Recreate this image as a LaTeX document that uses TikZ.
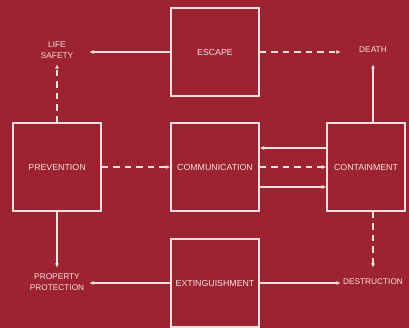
\documentclass[tikz,border=0pt]{standalone}
\usepackage{fontspec}
\setmainfont{Liberation Sans}
\usetikzlibrary{positioning,arrows.meta}
\definecolor{firered}{HTML}{9E2330}
\definecolor{chalk}{HTML}{F6E0E0}

\begin{document}
\begin{tikzpicture}[x=1pt,y=-1pt,
    box/.style={draw=chalk,line width=1.3pt,minimum width=88pt,minimum height=88pt,inner sep=0pt,text=chalk,font=\fontsize{8.8}{11}\selectfont},
    tag/.style={text=chalk,align=center,minimum width=64pt,minimum height=28pt,inner sep=0pt,font=\fontsize{8.3}{11}\selectfont},
    flow/.style={draw=chalk,line width=1.3pt,-{Latex[length=4.5pt,width=4pt]}},
    maybe/.style={flow,dash pattern=on 6.5pt off 5pt}]
        \fill[firered] (0,0) rectangle (409,328);
        % boxes
        \node[box] (escape) at (215,52) {ESCAPE};
        \node[box] (prevention) at (57,167) {PREVENTION};
        \node[box] (communication) at (215,167) {COMMUNICATION};
        \node[box,minimum width=78pt] (containment) at (366,167) {CONTAINMENT};
        \node[box] (extinguishment) at (215,283) {EXTINGUISHMENT};
        % outcomes
        \node[tag] (life) at (57,50) {LIFE\\SAFETY};
        \node[tag] (death) at (373,50) {DEATH};
        \node[tag] (property) at (57,282) {PROPERTY\\PROTECTION};
        \node[tag] (destruction) at (373,282) {DESTRUCTION};
        \draw[flow] (escape.west) -- (escape.west -| life.east);
        \draw[maybe] (escape.east) -- (escape.east -| death.west);
        \draw[maybe] (prevention.north) -- (life.south);
        \draw[flow] (prevention.south) -- (property.north);
        \draw[flow] (death |- containment.north) -- (death.south);
        \draw[maybe] (destruction |- containment.south) -- (destruction.north);
        \draw[flow] (extinguishment.west) -- (extinguishment.west -| property.east);
        \draw[flow] (extinguishment.east) -- (extinguishment.east -| destruction.west);
        \draw[maybe] (prevention.east) -- (communication.west);
        \draw[maybe] (communication.east) -- (containment.west);
        \draw[flow] ([yshift=19pt]containment.west) -- ([yshift=19pt]communication.east);
        \draw[flow] ([yshift=-20pt]communication.east) -- ([yshift=-20pt]containment.west);
      \end{tikzpicture}
\end{document}
